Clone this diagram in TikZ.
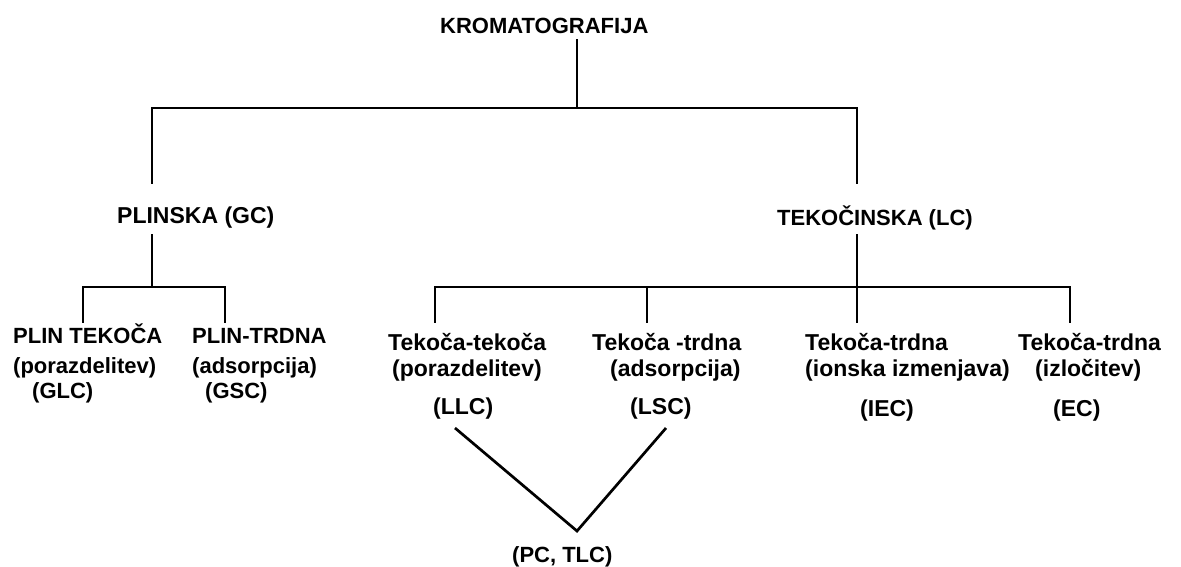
\documentclass[tikz,border=0pt]{standalone}
\usepackage{fontspec}
\setmainfont{Liberation Sans}
\begin{document}
\begin{tikzpicture}[x=1pt,y=-1pt,
  lbl/.style={inner sep=0pt,anchor=base west,font=\bfseries\fontsize{22}{26}\selectfont},
  lblw/.style={lbl,font=\bfseries\fontsize{23}{26}\selectfont},
  conn/.style={line width=2.7pt,line join=miter,line cap=rect}]
\useasboundingbox[fill=white] (0,0) rectangle (1181,566);
% text
\node[lbl] (root) at (440,33) {KROMATOGRAFIJA};
\node[lblw] (gc) at (117,223) {PLINSKA (GC)};
\node[lbl] (lc) at (777,225) {TEKOČINSKA (LC)};
\node[lbl] (a1) at (13,343) {PLIN TEKOČA};
\node[lbl] (a2) at (13,373) {(porazdelitev)};
\node[lbl] (a3) at (32,398) {(GLC)};
\node[lbl] (b1) at (192,343) {PLIN-TRDNA};
\node[lbl] (b2) at (192,373) {(adsorpcija)};
\node[lbl] (b3) at (205,398) {(GSC)};
\node[lblw] (c1) at (388,350) {Tekoča-tekoča};
\node[lblw] (c2) at (392,376) {(porazdelitev)};
\node[lblw] (c3) at (433,414) {(LLC)};
\node[lblw] (d1) at (592,350) {Tekoča -trdna};
\node[lblw] (d2) at (610,376) {(adsorpcija)};
\node[lblw] (d3) at (630,414) {(LSC)};
\node[lblw] (e1) at (805,350) {Tekoča-trdna};
\node[lblw] (e2) at (805,376) {(ionska izmenjava)};
\node[lblw] (e3) at (860,416) {(IEC)};
\node[lblw] (f1) at (1018,350) {Tekoča-trdna};
\node[lblw] (f2) at (1035,376) {(izločitev)};
\node[lblw] (f3) at (1053,416) {(EC)};
\node[lbl] (pc) at (512,562) {(PC, TLC)};
% junction coordinates
\coordinate (rootB) at (577,40);
\coordinate (j0) at (577,108);
\coordinate (jL) at (152,108);
\coordinate (jR) at (857,108);
\coordinate (gcT) at (152,183);
\coordinate (lcT) at (857,183);
\coordinate (gcB) at (152,235);
\coordinate (lcB) at (857,235);
\coordinate (gJ) at (152,287);
\coordinate (gL) at (83,287);
\coordinate (gR) at (225,287);
\coordinate (a1T) at (83,322);
\coordinate (b1T) at (225,322);
\coordinate (lJ) at (857,287);
\coordinate (lL) at (435,287);
\coordinate (lR) at (1070,287);
\coordinate (lM) at (647,287);
\coordinate (c1T) at (435,322);
\coordinate (d1T) at (647,322);
\coordinate (e1T) at (857,322);
\coordinate (f1T) at (1070,322);
\coordinate (c3B) at (455,428);
\coordinate (d3B) at (666,428);
\coordinate (pcT) at (577,531);
% connectors
\draw[conn] (rootB) -- (j0);
\draw[conn] (gcT) -- (jL) -- (jR) -- (lcT);
\draw[conn] (gcB) -- (gJ);
\draw[conn] (a1T) -- (gL) -- (gR) -- (b1T);
\draw[conn] (lcB) -- (lJ);
\draw[conn] (c1T) -- (lL) -- (lR) -- (f1T);
\draw[conn] (lM) -- (d1T);
\draw[conn] (lJ) -- (e1T);
\draw[line width=2.7pt,line join=miter] (c3B) -- (pcT) -- (d3B);
\end{tikzpicture}
\end{document}
